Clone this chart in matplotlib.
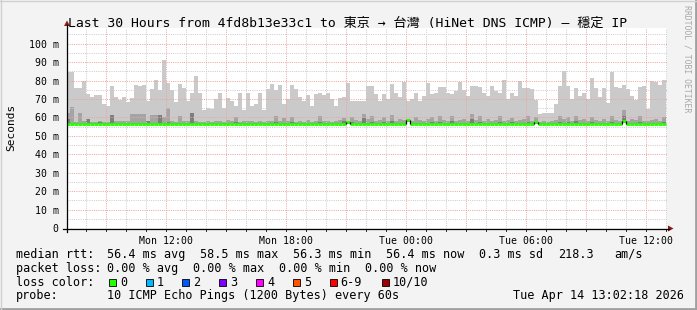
import numpy as np
import matplotlib
matplotlib.use("Agg")
import matplotlib.pyplot as plt
from matplotlib.patches import Rectangle, Polygon
from matplotlib.lines import Line2D

W, H = 697, 310
MONO = ['DejaVu Sans Mono', 'Noto Sans CJK JP']

# ==================================================
# data (ms), 12-minute bins, time in hours since Mon 00:00
# ==================================================
t_first_bin = 6.99
bin_hours = 0.2
t_lim = (7.04, 37.04)

ping_max = [84.5, 84.9, 75.7, 75.7, 80.0, 72.6, 71.3, 72.0, 72.4, 67.0,
            66.0, 77.0, 71.0, 69.3, 71.3, 68.2, 70.4, 77.5, 77.2, 77.5,
            69.0, 75.5, 80.5, 75.0, 91.0, 78.5, 75.0, 68.5, 78.0, 76.0,
            69.0, 73.0, 82.5, 73.0, 64.0, 65.0, 64.5, 70.0, 73.5, 65.0,
            70.5, 69.0, 66.0, 73.5, 64.0, 73.0, 66.0, 67.0, 73.5, 64.0,
            75.5, 78.0, 75.0, 77.5, 67.0, 70.0, 77.5, 75.5, 71.0, 69.0,
            72.0, 66.0, 72.5, 73.5, 72.0, 73.0, 70.0, 66.0, 70.5, 70.8,
            78.8, 69.0, 69.0, 69.0, 69.0, 76.8, 76.8, 72.6, 69.0, 72.6,
            69.9, 78.1, 73.5, 70.8, 79.0, 68.8, 69.9, 73.2, 69.0, 71.7,
            78.6, 72.6, 73.5, 76.3, 76.3, 73.5, 72.6, 74.4, 79.0, 75.0,
            71.7, 76.8, 76.8, 76.3, 73.2, 71.7, 76.8, 74.4, 73.2, 80.1,
            69.9, 73.2, 71.7, 79.6, 75.9, 75.7, 75.4, 69.5, 61.6, 62.6,
            62.6, 62.2, 67.1, 76.8, 85.4, 76.8, 69.9, 75.7, 71.7, 73.5,
            69.9, 81.2, 75.7, 71.3, 75.7, 67.7, 84.9, 76.3, 75.7, 77.6,
            75.4, 71.7, 69.5, 76.5, 76.8, 64.4, 79.9, 79.0, 77.6, 80.5]

ping_p9 = [62.6, 65.9, 57.5, 62.6, 57.8, 59.4, 57.5, 57.5, 58.0, 57.5,
           57.5, 61.3, 58.0, 58.0, 57.8, 58.2, 61.7, 61.7, 61.7, 61.7,
           58.1, 61.3, 61.3, 61.3, 60.0, 65.0, 58.0, 57.6, 60.5, 58.0,
           58.0, 62.6, 58.0, 57.6, 57.5, 58.2, 57.5, 57.8, 58.0, 57.5,
           58.5, 58.0, 60.2, 57.6, 58.0, 57.8, 58.0, 57.5, 58.3, 57.6,
           58.0, 57.8, 61.0, 58.0, 59.5, 58.2, 60.0, 57.6, 58.0, 57.5,
           58.5, 57.7, 58.0, 60.5, 57.8, 58.0, 57.6, 58.0, 58.5, 59.5,
           58.0, 60.0, 58.5, 58.0, 62.0, 59.0, 61.0, 58.0, 58.5, 60.0,
           58.0, 61.5, 58.0, 59.0, 58.5, 59.0, 58.0, 60.0, 58.5, 58.0,
           59.0, 60.0, 58.0, 60.5, 58.5, 58.0, 61.0, 58.0, 58.5, 59.0,
           58.0, 62.0, 58.5, 61.0, 58.0, 59.0, 58.0, 58.5, 60.5, 58.0,
           58.5, 59.5, 58.0, 58.5, 59.0, 60.5, 58.0, 60.0, 57.5, 57.8,
           57.6, 58.0, 58.5, 60.5, 59.0, 60.0, 58.0, 61.0, 58.5, 59.0,
           58.0, 60.0, 58.5, 58.0, 59.0, 58.0, 60.5, 58.5, 58.0, 64.0,
           58.0, 59.0, 58.5, 60.5, 58.0, 57.8, 58.5, 59.0, 58.0, 60.0]

ping_p8 = [59.4, 57.0, 56.8, 57.2, 56.8, 59.4, 56.8, 56.8, 57.6, 57.0,
           56.8, 61.3, 56.8, 57.0, 56.8, 57.0, 57.2, 56.8, 57.0, 57.2,
           58.1, 57.0, 56.8, 61.3, 57.0, 57.5, 56.8, 57.0, 57.2, 56.8,
           57.0, 62.6, 56.8, 57.0, 56.8, 57.0, 56.8, 56.8, 57.0, 56.8,
           57.0, 56.8, 57.5, 56.8, 57.0, 56.8, 57.0, 56.8, 57.0, 56.8,
           57.0, 56.8, 57.5, 57.0, 56.8, 57.0, 57.5, 56.8, 57.0, 56.8,
           57.0, 56.8, 57.0, 57.5, 56.8, 57.0, 56.8, 57.0, 57.0, 58.0,
           57.0, 57.5, 57.0, 56.8, 59.5, 57.0, 57.5, 56.8, 57.0, 57.5,
           56.8, 58.0, 57.0, 57.0, 57.0, 57.5, 56.8, 57.0, 57.0, 56.8,
           57.0, 57.5, 56.8, 57.5, 57.0, 56.8, 58.0, 56.8, 57.0, 57.0,
           56.8, 59.0, 57.0, 57.5, 56.8, 57.0, 56.8, 57.0, 57.5, 56.8,
           57.0, 57.5, 56.8, 57.0, 57.0, 57.5, 56.8, 57.5, 56.8, 56.8,
           56.8, 57.0, 57.0, 57.5, 57.0, 57.5, 56.8, 58.0, 57.0, 57.0,
           56.8, 57.5, 57.0, 56.8, 57.0, 56.8, 57.5, 57.0, 56.8, 61.0,
           56.8, 57.0, 57.0, 57.5, 56.8, 56.8, 57.0, 57.0, 56.8, 57.5]

ping_min = 56.2
median = [56.4] * 150
median[70] = 57.4
median[85] = 58.6
median[117] = 57.6
median[139] = 57.8

y_ticks = [0, 10, 20, 30, 40, 50, 60, 70, 80, 90, 100]
y_labels = ["0"] + [f"{v} m" for v in y_ticks[1:]]
x_ticks = [12, 18, 24, 30, 36]
x_labels = ["Mon 12:00", "Mon 18:00", "Tue 00:00", "Tue 06:00", "Tue 12:00"]

loss_labels = ["0", "1", "2", "3", "4", "5", "6-9", "10/10"]
loss_colors = ["#26ff00", "#00b8ff", "#0059ff", "#7e00ff", "#ff00ff",
               "#ff5500", "#ff0000", "#a10000"]

title = "Last 30 Hours from 4fd8b13e33c1 to 東京 → 台灣 (HiNet DNS ICMP) – 穩定 IP"
stamp = "Tue Apr 14 13:02:18 2026"

# ==================================================
# figure
# ==================================================
fig = plt.figure(figsize=(W / 100, H / 100), dpi=100, facecolor="#f3f3f3")
ax = fig.add_axes([67 / W, 1 - 228 / H, 600 / W, 200 / H])
ax.set_facecolor("white")
ax.set_xlim(*t_lim)
ax.set_ylim(0, 108.5)

n = len(ping_max)
t_left = t_first_bin + bin_hours * np.arange(n)
pmax = np.array(ping_max)
p9 = np.array(ping_p9)
p8 = np.array(ping_p8)
med = np.array(median)

# smoke
ax.bar(t_left, pmax - ping_min, bottom=ping_min, width=bin_hours, align="edge",
       color="#cacaca", linewidth=0, zorder=1)
ax.bar(t_left, p9 - ping_min, bottom=ping_min, width=bin_hours, align="edge",
       color="#a4a4a4", linewidth=0, zorder=1.1)
ax.bar(t_left, p8 - ping_min, bottom=ping_min, width=bin_hours, align="edge",
       color="#7e7e7e", linewidth=0, zorder=1.2)

# grid
for h in range(8, 38):
    c = "#eea4a4" if h % 3 == 0 else "#cccccc"
    ax.axvline(h, color=c, lw=0.72, dashes=(1, 1.2), zorder=2)
for v in range(5, 110, 5):
    c = "#eea4a4" if v % 10 == 0 else "#cccccc"
    ax.axhline(v, color=c, lw=0.72, dashes=(1, 1.2), zorder=2)

# median line (raised bins get white underneath)
raised = med > 56.5
ax.bar(t_left[raised], med[raised] - ping_min - 0.4, bottom=ping_min - 0.6,
       width=bin_hours, align="edge", color="white", linewidth=0, zorder=2.5)
ax.hlines(med, t_left, t_left + bin_hours, color="#26ff00", lw=2.1, zorder=3)
steps = np.nonzero(np.diff(med))[0]
ax.vlines(t_left[steps + 1], med[steps], med[steps + 1], color="black",
          lw=0.9, zorder=3.1)

for s in ax.spines.values():
    s.set_visible(False)

ax.set_xticks(x_ticks, labels=x_labels)
ax.set_yticks(y_ticks, labels=y_labels)
ax.tick_params(axis="both", length=0, labelsize=7.1, colors="black")
ax.tick_params(axis="x", pad=6)
ax.tick_params(axis="y", pad=6)
for lab in ax.get_xticklabels() + ax.get_yticklabels():
    lab.set_family(MONO)

# axes lines with arrows (drawn in pixel space)
def fx(x):
    return x / W


def fy(y):
    return 1 - y / H


fig.add_artist(Line2D([fx(63), fx(669)], [fy(228.5), fy(228.5)], color="black", lw=0.9))
fig.add_artist(Line2D([fx(67), fx(67)], [fy(232), fy(25)], color="black", lw=0.9))
fig.add_artist(Polygon([[fx(668), fy(225.5)], [fx(673.5), fy(228.5)], [fx(668), fy(231.5)]],
                       closed=True, color="#8b1a1a", lw=0))
fig.add_artist(Polygon([[fx(64), fy(26)], [fx(67), fy(20.5)], [fx(70), fy(26)]],
                       closed=True, color="#8b1a1a", lw=0))
for h in range(8, 38):
    fig.add_artist(Line2D([fx(67 + (h - t_lim[0]) * 20)] * 2, [fy(228.5), fy(231)],
                          color="black", lw=0.6))

# texts
fig.text(fx(347.5), fy(26.5), title, ha="center", va="baseline", fontsize=9.45,
         family=MONO)
fig.text(fx(11), fy(127), "Seconds", rotation=90, ha="center", va="center",
         fontsize=8, family=MONO)
fig.text(fx(687.5), fy(59), "RRDTOOL / TOBI OETIKER", rotation=270, ha="center",
         va="center", fontsize=5.9, family=MONO, color="#a8a8a8")

leg = 8.5
rows = [
    (257.7, [(16, "median rtt:"), (107.3, "56.4 ms avg"), (200, "58.5 ms max"),
             (292.7, "56.3 ms min"), (385.7, "56.4 ms now"), (479.3, "0.3 ms sd"),
             (558.3, "218.3"), (614, "am/s")]),
    (271.7, [(16, "packet loss:"), (107.3, "0.00 % avg"), (193.3, "0.00 % max"),
             (279.3, "0.00 % min"), (365.3, "0.00 % now")]),
    (285.7, [(16, "loss color:")]),
    (299.3, [(16, "probe:"), (107.3, "10 ICMP Echo Pings (1200 Bytes) every 60s"),
             (513.3, stamp)]),
]
for yb, items in rows:
    for xl, s in items:
        fig.text(fx(xl), fy(yb), s, ha="left", va="baseline", fontsize=leg, family=MONO)

sq_x = [109, 145.7, 182.3, 219.3, 256, 292.7, 329.5, 381.7]
for xl, lab, col in zip(sq_x, loss_labels, loss_colors):
    fig.add_artist(Rectangle((fx(xl), fy(285.5)), 7 / W, 7 / H, facecolor=col,
                             edgecolor="black", lw=0.6))
    fig.text(fx(xl + 11), fy(285.7), lab, ha="left", va="baseline", fontsize=leg,
             family=MONO)

# 3d border
fig.add_artist(Line2D([0, 1], [fy(309), fy(309)], color="#a0a0a0", lw=2))
fig.add_artist(Line2D([fx(696), fx(696)], [0, 1], color="#a0a0a0", lw=2))
fig.add_artist(Line2D([0, 1], [fy(0.5), fy(0.5)], color="#d0d0d0", lw=1))
fig.add_artist(Line2D([fx(0.5), fx(0.5)], [0, 1], color="#d0d0d0", lw=1))

fig.savefig("out.png", dpi=100, facecolor=fig.get_facecolor())
